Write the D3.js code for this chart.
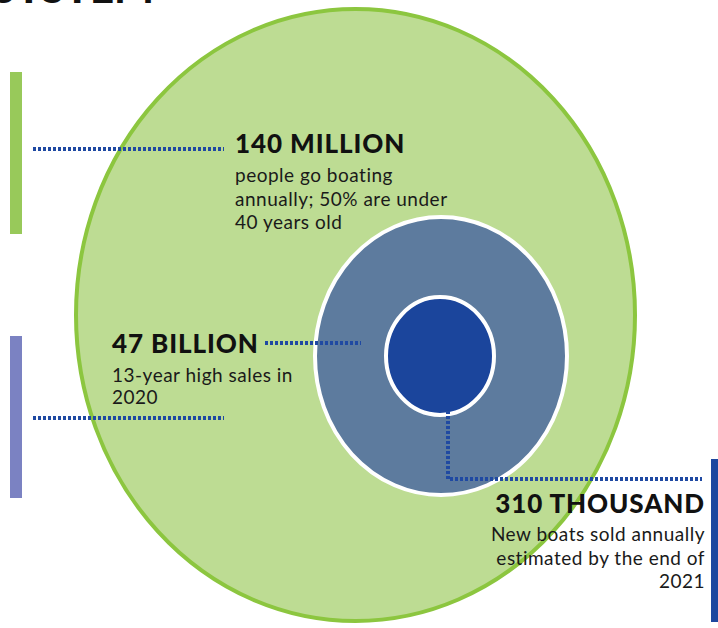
<!DOCTYPE html>
<html>
<head>
<meta charset="utf-8">
<script src="https://cdn.jsdelivr.net/npm/d3@7/dist/d3.min.js"></script>
<style>
  html, body { margin: 0; padding: 0; background: #fff; }
  svg { display: block; }
  text { font-family: Lato, "Open Sans", sans-serif; }
</style>
</head>
<body>
<svg id="chart" width="718" height="628"></svg>
<script>
// ---- data ----
const title = "BOATING ECOSYSTEM";
const levels = ["Participants", "Sales", "New boats"];
const headlines = ["140 MILLION", "47 BILLION", "310 THOUSAND"];
const descriptions = [
  ["people go boating", "annually; 50% are under", "40 years old"],
  ["13-year high sales in", "2020"],
  ["New boats sold annually", "estimated by the end of", "2021"]
];
const ringColors = ["#bddc93", "#5d7b9e", "#1b459c"];
const barColors = ["#98c95a", "#7b82c2", "#1d479f"];

// ---- layout ----
const svg = d3.select("#chart");
const dotColor = "#1f49a2";

// ring geometry via scales on level index
const idx = d3.scaleOrdinal().domain(levels).range([0, 1, 2]);
const rxScale = d3.scaleOrdinal().domain(levels).range([279.5, 126, 54]);
const ryScale = d3.scaleOrdinal().domain(levels).range([306, 139, 59]);
const cxScale = d3.scaleOrdinal().domain(levels).range([355.5, 441, 440]);
const cyScale = d3.scaleOrdinal().domain(levels).range([315, 356, 356]);

// title (cut off at top)
svg.append("text")
  .attr("x", 154).attr("y", 3)
  .attr("text-anchor", "end")
  .attr("font-size", 42).attr("font-weight", 900)
  .attr("fill", "#111")
  .text(title);

// rings
svg.selectAll("ellipse.ring").data(levels).join("ellipse")
  .attr("class", "ring")
  .attr("cx", d => cxScale(d)).attr("cy", d => cyScale(d))
  .attr("rx", d => rxScale(d)).attr("ry", d => ryScale(d))
  .attr("fill", d => ringColors[idx(d)])
  .attr("stroke", d => idx(d) === 0 ? "#8cc63f" : "#fff")
  .attr("stroke-width", 4);

// side bars
const bars = [
  {x: 10, y: 72, w: 12, h: 162, c: barColors[0]},
  {x: 10, y: 336, w: 12, h: 162, c: barColors[1]},
  {x: 711, y: 459, w: 10, h: 163, c: barColors[2]}
];
svg.selectAll("rect.bar").data(bars).join("rect")
  .attr("class", "bar")
  .attr("x", d => d.x).attr("y", d => d.y)
  .attr("width", d => d.w).attr("height", d => d.h)
  .attr("fill", d => d.c);

// dotted leader lines
const lines = [
  [[33, 149], [224, 149]],
  [[265, 343], [361, 343]],
  [[33, 418], [224, 418]],
  [[448, 411], [448, 479], [702, 479]]
];
svg.selectAll("path.lead").data(lines).join("path")
  .attr("class", "lead")
  .attr("d", d => d3.line()(d))
  .attr("fill", "none")
  .attr("stroke", dotColor)
  .attr("stroke-width", 4)
  .attr("stroke-dasharray", "3,2");

// labels
const labelPos = [
  {x: 235, y: 153, anchor: "start", lh: 23.5, dy: 29},
  {x: 112, y: 353, anchor: "start", lh: 22, dy: 29},
  {x: 705, y: 513, anchor: "end", lh: 23.5, dy: 28}
];
levels.forEach((lv, i) => {
  const p = labelPos[i];
  const g = svg.append("g");
  g.append("text")
    .attr("x", p.x).attr("y", p.y)
    .attr("text-anchor", p.anchor)
    .attr("font-size", 26).attr("font-weight", 900)
    .attr("letter-spacing", 0.9)
    .attr("fill", "#111")
    .text(headlines[i]);
  g.selectAll("text.desc").data(descriptions[i]).join("text")
    .attr("class", "desc")
    .attr("x", p.x)
    .attr("y", (d, j) => p.y + p.dy + j * p.lh)
    .attr("text-anchor", p.anchor)
    .attr("font-size", 19).attr("font-weight", 400)
    .attr("letter-spacing", 0.5)
    .attr("fill", "#1a1a1a")
    .text(d => d);
});
</script>
</body>
</html>
